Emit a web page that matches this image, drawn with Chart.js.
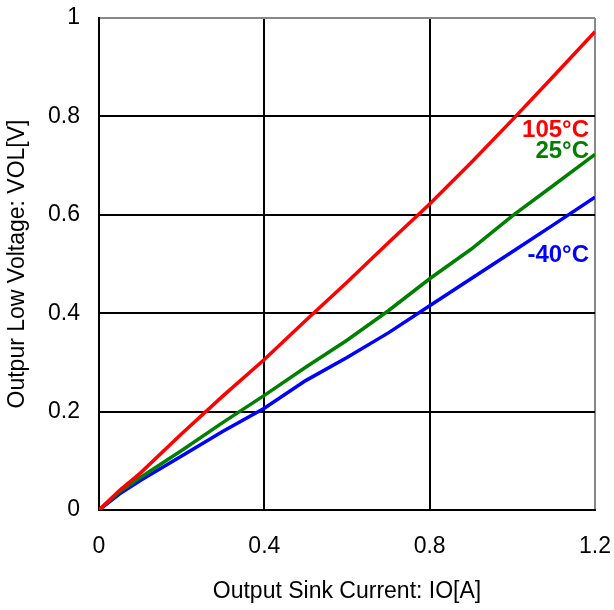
<!DOCTYPE html>
<html>
<head>
<meta charset="utf-8">
<script src="https://cdn.jsdelivr.net/npm/chart.js@4/dist/chart.umd.min.js"></script>
<style>
  html, body { margin: 0; padding: 0; background: #fff; }
  #wrap { width: 614px; height: 610px; }
</style>
</head>
<body>
<div id="wrap"><canvas id="vol"></canvas></div>
<script>
const current = [0, 0.05, 0.1, 0.2, 0.3, 0.4, 0.5, 0.6, 0.7, 0.8, 0.9, 1.0, 1.1, 1.2];
const vol105 = [0, 0.04, 0.075, 0.155, 0.232, 0.306, 0.385, 0.463, 0.543, 0.622, 0.706, 0.793, 0.882, 0.972];
const vol25 = [0, 0.037, 0.066, 0.121, 0.178, 0.233, 0.29, 0.345, 0.405, 0.47, 0.53, 0.598, 0.66, 0.723];
const volM40 = [0, 0.033, 0.06, 0.11, 0.16, 0.207, 0.263, 0.31, 0.36, 0.415, 0.47, 0.525, 0.58, 0.636];

const seriesNames = ["105°C", "25°C", "-40°C"];
const seriesColors = ["#ff0000", "#008000", "#0000ff"];
const labelY = [0.772, 0.728, 0.518];

const xTicks = [0, 0.4, 0.8, 1.2];
const yTicks = [0, 0.2, 0.4, 0.6, 0.8, 1];

const font = "'Liberation Sans', Arial, sans-serif";

function points(ys) {
    return current.map((x, i) => ({ x: x, y: ys[i] }));
}

const curveLabels = {
    id: "curveLabels",
    afterDatasetsDraw(chart) {
        const c = chart.ctx;
        const xs = chart.scales.x;
        const ys = chart.scales.y;
        c.save();
        c.font = "bold 24px " + font;
        c.textAlign = "right";
        c.textBaseline = "middle";
        seriesNames.forEach((name, i) => {
            c.fillStyle = seriesColors[i];
            c.fillText(name, xs.getPixelForValue(1.2) - 6, ys.getPixelForValue(labelY[i]));
        });
        c.restore();
    }
};

new Chart(document.getElementById("vol"), {
    type: "scatter",
    data: {
        datasets: [
            { label: seriesNames[0], data: points(vol105), borderColor: seriesColors[0] },
            { label: seriesNames[1], data: points(vol25), borderColor: seriesColors[1] },
            { label: seriesNames[2], data: points(volM40), borderColor: seriesColors[2] }
        ].map(d => Object.assign(d, { showLine: true, pointRadius: 0, borderWidth: 3.5, tension: 0 }))
    },
    options: {
        responsive: true,
        maintainAspectRatio: false,
        animation: false,
        layout: { padding: 0 },
        plugins: { legend: { display: false }, tooltip: { enabled: false } },
        scales: {
            x: {
                min: 0,
                max: 1.2,
                afterBuildTicks: s => { s.ticks = xTicks.map(v => ({ value: v })); },
                afterFit: s => { s.height = 100; s.paddingLeft = 0; s.paddingRight = 19; },
                ticks: {
                    color: "#000",
                    font: { family: font, size: 23 },
                    padding: 23,
                    maxRotation: 0,
                    callback: v => String(v)
                },
                grid: {
                    color: c => c.tick && c.tick.value === 1.2 ? "#888" : "#000",
                    lineWidth: 2,
                    drawTicks: false
                },
                border: { color: "#000", width: 2 },
                title: {
                    display: true,
                    text: "Output Sink Current: IO[A]",
                    color: "#000",
                    font: { family: font, size: 23 },
                    padding: { top: 2, bottom: 5 }
                }
            },
            y: {
                min: 0,
                max: 1,
                afterBuildTicks: s => { s.ticks = yTicks.map(v => ({ value: v })); },
                afterFit: s => { s.width = 99; s.paddingTop = 18; s.paddingBottom = 0; },
                ticks: {
                    color: "#000",
                    font: { family: font, size: 23 },
                    padding: 19,
                    callback: v => String(v)
                },
                grid: {
                    color: c => c.tick && c.tick.value === 1 ? "#888" : "#000",
                    lineWidth: 2,
                    drawTicks: false
                },
                border: { color: "#000", width: 2 },
                title: {
                    display: true,
                    text: "Outpur Low Voltage: VOL[V]",
                    color: "#000",
                    font: { family: font, size: 23 },
                    padding: { top: 4, bottom: 0 }
                }
            }
        }
    },
    plugins: [curveLabels]
});
</script>
</body>
</html>
